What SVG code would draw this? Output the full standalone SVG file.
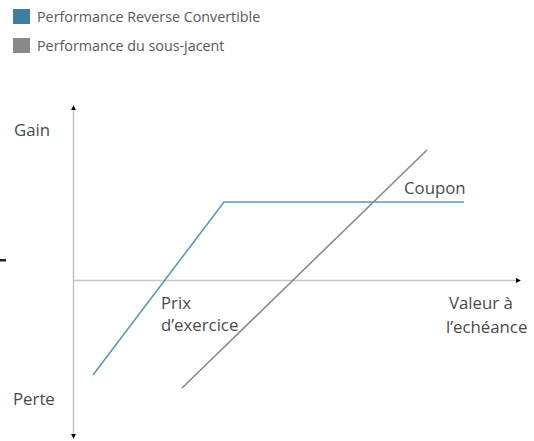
<svg xmlns="http://www.w3.org/2000/svg" width="534" height="441" viewBox="0 0 534 441">
<style>
.t{font-family:"Open Sans","Noto Sans","Liberation Sans",sans-serif;fill:#4a4a4a}
.lg{font-size:14.3px;fill:#595959}
.lb{font-size:16.8px}
.ax{stroke:#c4c4c4;stroke-width:1.5;fill:none}
</style>
<defs>
<marker id="ah" viewBox="0 0 6 6" refX="5" refY="3" markerWidth="5" markerHeight="5" orient="auto-start-reverse" markerUnits="userSpaceOnUse">
<path d="M0,0 L6,3 L0,6 z" fill="#000"/>
</marker>
</defs>
<rect width="534" height="441" fill="#fff"/>
<g id="legend">
<rect x="13" y="9" width="17" height="15" fill="#3f7f9f"/>
<text class="t lg" x="37" y="21.5">Performance Reverse Convertible</text>
<rect x="13" y="38" width="17" height="15" fill="#8a8a8a"/>
<text class="t lg" x="37" y="50.5">Performance du sous-jacent</text>
</g>
<g id="axes">
<line class="ax" x1="73.5" y1="280" x2="73.5" y2="106" marker-end="url(#ah)"/>
<line class="ax" x1="73.5" y1="280" x2="73.5" y2="438" marker-end="url(#ah)"/>
<line class="ax" x1="73" y1="280.5" x2="520" y2="280.5" marker-end="url(#ah)"/>
<rect x="0" y="259" width="6" height="2.5" fill="#222"/>
</g>
<g id="connectors">
<polyline points="93,375 224,202 464,202" fill="none" stroke="#5b98b8" stroke-width="1.6"/>
<line x1="182" y1="388" x2="427" y2="150" stroke="#8a8a8a" stroke-width="1.6"/>
</g>
<g id="labels">
<text class="t lb" x="14" y="136">Gain</text>
<text class="t lb" x="13" y="405">Perte</text>
<text class="t lb" x="404" y="194">Coupon</text>
<text class="t lb" x="161" y="309">Prix</text>
<text class="t lb" x="161" y="331">d’exercice</text>
<text class="t lb" x="449" y="309">Valeur à</text>
<text class="t lb" x="446" y="333">l’echéance</text>
</g>
</svg>
